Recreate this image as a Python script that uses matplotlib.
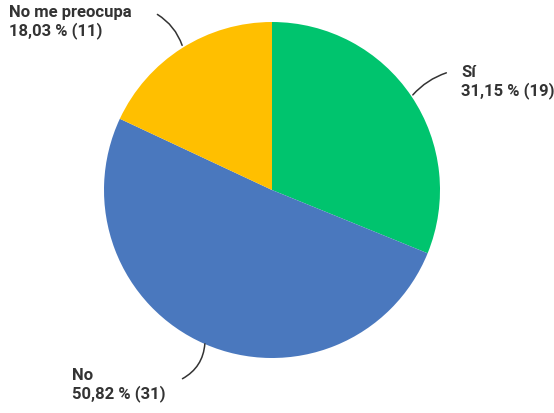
import matplotlib
matplotlib.use("Agg")
import matplotlib.pyplot as plt

labels = ["Sí", "No", "No me preocupa"]
percents = [31.15, 50.82, 18.03]
counts = [19, 31, 11]
colors = ["#00C46E", "#4A78BE", "#FFBF00"]

W, H = 554, 413
fig = plt.figure(figsize=(W/100, H/100), dpi=100)
cx, cy, r = 272, 190, 168
ax = fig.add_axes([(cx - r)/W, (H - cy - r)/H, 2*r/W, 2*r/H])
ax.pie(counts, colors=colors, startangle=90, counterclock=False, radius=1,
       wedgeprops=dict(linewidth=0))
ax.set_xlim(-1, 1)
ax.set_ylim(-1, 1)
ax.set_aspect("equal")
ax.axis("off")

def d(px, py):
    return ((px - cx)/r, (cy - py)/r)

fmt = lambda i: f"{labels[i]}\n{str(percents[i]).replace('.', ',')} % ({counts[i]})"
font = dict(family="Roboto", weight="bold", size=12, color="#333333")

# Sí
ax.annotate("", xy=d(411, 97), xytext=d(449, 72),
            arrowprops=dict(arrowstyle="-", color="#333333", lw=1.1,
                            connectionstyle="arc3,rad=0.15"), annotation_clip=False)
ax.text(*d(461, 82), fmt(0), ha="left", va="center", linespacing=1.2, **font)
# No
ax.annotate("", xy=d(205, 341), xytext=d(180, 380),
            arrowprops=dict(arrowstyle="-", color="#333333", lw=1.1,
                            connectionstyle="arc3,rad=0.3"), annotation_clip=False)
ax.text(*d(72, 385), fmt(1), ha="left", va="center", linespacing=1.2, **font)
# No me preocupa
ax.annotate("", xy=d(183, 48), xytext=d(155, 13),
            arrowprops=dict(arrowstyle="-", color="#333333", lw=1.1,
                            connectionstyle="arc3,rad=-0.2"), annotation_clip=False)
ax.text(*d(9, 22), fmt(2), ha="left", va="center", linespacing=1.2, **font)

fig.savefig("out.png", dpi=100)
